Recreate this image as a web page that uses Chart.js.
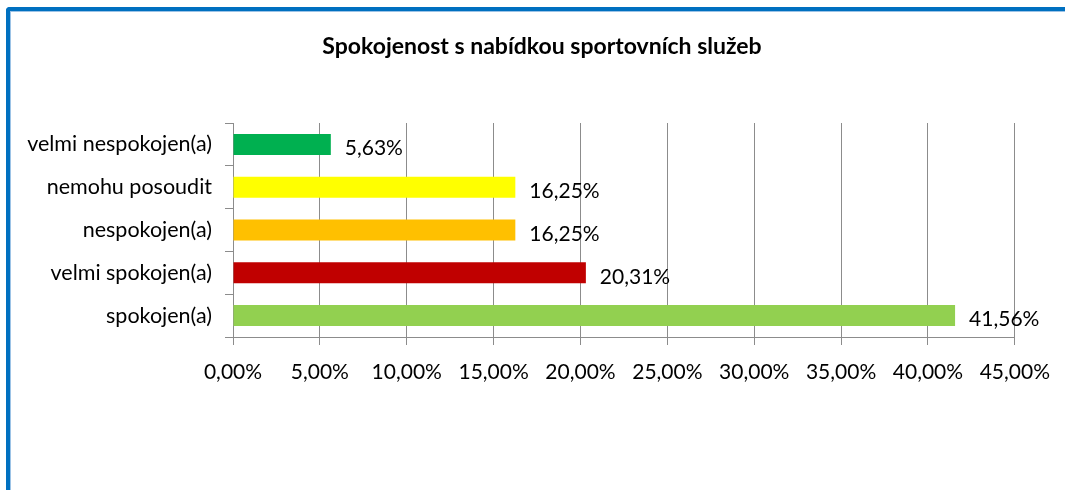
<!DOCTYPE html>
<html>
<head>
<meta charset="utf-8">
<script src="https://cdn.jsdelivr.net/npm/chart.js@4/dist/chart.umd.min.js"></script>
<style>
  html, body { margin: 0; padding: 0; background: #fff; }
  #wrap { position: relative; width: 1065px; height: 490px; overflow: hidden; }
  #frame { position: absolute; left: 6px; top: 7px; width: 1100px; height: 600px;
           border-left: 4px solid #0070C0; border-top: 4px solid #0070C0;
           border-top-left-radius: 4px; box-shadow: inset 1px 1px 0 #9CC3E6; pointer-events: none; }
  canvas { position: absolute; left: 0; top: 0; }
</style>
</head>
<body>
<div id="wrap">
  <canvas id="c" width="1065" height="490"></canvas>
  <div id="frame"></div>
</div>
<script>
const titleText = 'Spokojenost s nabídkou sportovních služeb';
const categories = ['velmi nespokojen(a)', 'nemohu posoudit', 'nespokojen(a)', 'velmi spokojen(a)', 'spokojen(a)'];
const values = [5.63, 16.25, 16.25, 20.31, 41.56];
const barColors = ['#00B050', '#FFFF00', '#FFC000', '#C00000', '#92D050'];
const axisMin = 0, axisMax = 45, axisStep = 5;

const fmt = v => Number(v).toFixed(2).replace('.', ',') + '%';
const FONT = 'Lato, "Open Sans", sans-serif';

const dataLabels = {
  id: 'dataLabels',
  afterDatasetsDraw(chart) {
    const ctx = chart.ctx;
    const meta = chart.getDatasetMeta(0);
    ctx.save();
    ctx.font = '21px ' + FONT;
    ctx.fillStyle = '#000';
    ctx.textAlign = 'left';
    ctx.textBaseline = 'middle';
    meta.data.forEach((bar, i) => {
      ctx.fillText(fmt(values[i]), bar.x + 14, bar.y + 4);
    });
    ctx.restore();
  }
};

// shift the title block so it is centred like the reference
const titleShift = {
  id: 'titleShift',
  afterLayout(chart) {
    if (chart.titleBlock) { chart.titleBlock.left = 68; }
  }
};

new Chart(document.getElementById('c'), {
  type: 'bar',
  data: {
    labels: categories,
    datasets: [{
      data: values,
      backgroundColor: barColors,
      borderWidth: 0,
      barPercentage: 0.49,
      categoryPercentage: 1.0
    }]
  },
  options: {
    indexAxis: 'y',
    responsive: false,
    animation: false,
    events: [],
    layout: { padding: { left: 0, right: 49, top: 0, bottom: 0 } },
    plugins: {
      legend: { display: false },
      tooltip: { enabled: false },
      title: {
        display: true,
        text: titleText,
        color: '#000',
        font: { family: FONT, size: 23, weight: 'bold', lineHeight: 1.2 },
        padding: { top: 33, bottom: 62.4 }
      }
    },
    scales: {
      x: {
        min: axisMin, max: axisMax,
        ticks: {
          stepSize: axisStep,
          callback: v => fmt(v),
          color: '#000',
          font: { family: FONT, size: 21 },
          padding: 15,
          maxRotation: 0
        },
        grid: { color: '#8C8C8C', lineWidth: 1, tickLength: 8, drawTicks: true },
        border: { color: '#8C8C8C', width: 1 },
        afterFit(scale) { scale.height = 153; }
      },
      y: {
        ticks: {
          color: '#000',
          font: { family: FONT, size: 21.5 },
          padding: 13
        },
        grid: { drawOnChartArea: false, color: '#8C8C8C', tickLength: 8, offset: true },
        border: { color: '#8C8C8C', width: 1 },
        afterFit(scale) { scale.width = 233; }
      }
    }
  },
  plugins: [dataLabels, titleShift]
});
</script>
</body>
</html>
